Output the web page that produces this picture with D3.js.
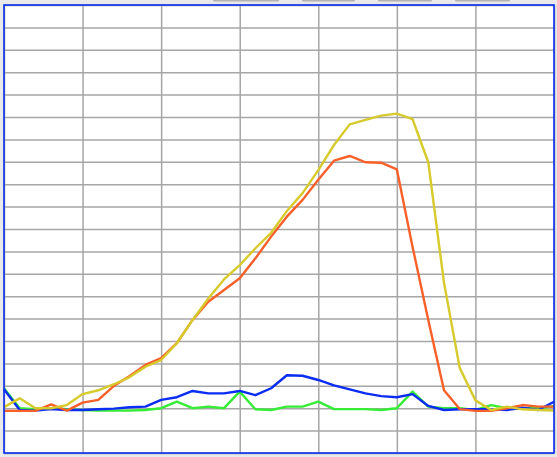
<!DOCTYPE html>
<html><head><meta charset="utf-8">
<script src="https://cdn.jsdelivr.net/npm/d3@7"></script>
<style>html,body{margin:0;padding:0;background:#e9e9e9;overflow:hidden}</style>
</head><body><svg id="c" width="557" height="457"></svg>
<script>
const xIndex = d3.range(36);
const yellowValues = [2.05,2.44,2.0,2.0,2.14,2.63,2.8,3.07,3.39,3.85,4.15,4.9,5.94,6.9,7.75,8.39,9.14,9.83,10.8,11.6,12.63,13.75,14.67,14.87,15.06,15.15,14.9,12.98,7.6,3.8,2.35,1.92,2.07,1.95,1.92,1.9];
const orangeValues = [1.88,1.88,1.88,2.17,1.89,2.25,2.37,3.0,3.44,3.93,4.24,4.9,5.94,6.75,7.28,7.8,8.69,9.66,10.55,11.3,12.2,13.05,13.26,12.98,12.96,12.66,9.2,5.94,2.8,1.96,1.88,1.88,2.0,2.14,2.07,2.07];
const blueValues = [2.85,1.92,1.89,1.96,1.92,1.92,1.95,1.98,2.04,2.07,2.37,2.49,2.77,2.66,2.66,2.77,2.58,2.89,3.47,3.45,3.26,3.02,2.84,2.66,2.54,2.49,2.63,2.1,1.92,1.95,1.95,1.96,1.92,2.02,1.92,2.29];
const greenValues = [2.89,2.0,1.96,2.0,1.95,1.92,1.89,1.89,1.89,1.92,2.0,2.29,2.0,2.07,2.0,2.74,1.95,1.92,2.07,2.07,2.29,1.96,1.96,1.96,1.92,2.0,2.74,2.07,2.0,2.0,1.92,2.14,2.0,2.0,2.0,2.1];
const xTicks = [0,5,10,15,20,25,30,35];
const yTicks = d3.range(0,21);

const svg = d3.select("#c");
// top cut-off buttons (only their shadowed bottom edges show)
const tabs = [[213,66],[302,53],[378,54],[455,55]];
svg.selectAll("rect.tab").data(tabs).enter().append("rect")
  .attr("x",d=>d[0]).attr("y",-1).attr("width",d=>d[1]).attr("height",2.6).attr("rx",1.3)
  .attr("fill","#b2b2b2");

const L=4,R=554,T=5,B=453;
const x = d3.scaleLinear().domain([0,35]).range([L,R]);
const y = d3.scaleLinear().domain([0,20]).range([B,T]);

svg.append("rect").attr("x",L).attr("y",T).attr("width",R-L).attr("height",B-T).attr("fill","#fff");

const gx = svg.append("g").attr("transform",`translate(0,${B})`)
  .call(d3.axisBottom(x).tickValues(xTicks).tickSize(-(B-T)).tickFormat(""));
const gy = svg.append("g").attr("transform",`translate(${L},0)`)
  .call(d3.axisLeft(y).tickValues(yTicks).tickSize(-(R-L)).tickFormat(""));
[gx,gy].forEach(g=>{g.select(".domain").remove();
  g.selectAll(".tick line").attr("stroke","#a6a6a6").attr("stroke-width",1.5);});

const line = d3.line().x((d,i)=>x(xIndex[i])).y(d=>y(d));
const series = [[greenValues,"#36ec36"],[blueValues,"#0b2cf2"],[orangeValues,"#f8602a"],[yellowValues,"#d6ca2c"]];
series.forEach(([v,c])=>{
  svg.append("path").datum(v).attr("d",line).attr("fill","none").attr("stroke",c).attr("stroke-width",2.4).attr("stroke-linejoin","round");
});
svg.append("rect").attr("x",L).attr("y",T).attr("width",R-L).attr("height",B-T)
  .attr("fill","none").attr("stroke","#0b2cf2").attr("stroke-width",1.6);
</script></body></html>
